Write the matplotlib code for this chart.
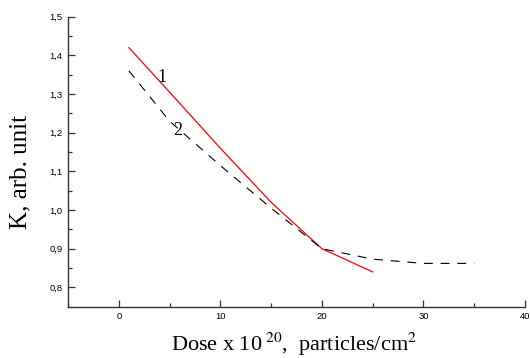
import matplotlib.pyplot as plt
from matplotlib.ticker import MultipleLocator, FuncFormatter

# curve 1 (red, solid)
dose1 = [1, 5, 10, 15, 20, 25]
k1 = [1.42, 1.305, 1.16, 1.02, 0.90, 0.84]

# curve 2 (black, dashed)
dose2 = [1, 5, 10, 15, 20, 25, 30, 35]
k2 = [1.36, 1.23, 1.115, 1.005, 0.90, 0.873, 0.862, 0.862]

fig = plt.figure(figsize=(5.3, 3.58), dpi=100)
ax = fig.add_axes([68/530, 1 - 306.7/358, (525 - 68)/530, (306.7 - 16.7)/358])

ax.plot(dose1, k1, color='red', lw=0.9)
ax.plot(dose2, k2, color='black', lw=0.8, linestyle=(0, (8, 7)))

ax.text(4.3, 1.342, '1', family='Liberation Serif', fontsize=13, ha='center', va='center')
ax.text(5.8, 1.205, '2', family='Liberation Serif', fontsize=13, ha='center', va='center')

ax.set_xlim(-5, 40)
ax.set_ylim(0.75, 1.5)
ax.xaxis.set_major_locator(MultipleLocator(10))
ax.xaxis.set_minor_locator(MultipleLocator(5))
ax.yaxis.set_major_locator(MultipleLocator(0.1))
ax.yaxis.set_minor_locator(MultipleLocator(0.05))
ax.yaxis.set_major_formatter(FuncFormatter(lambda v, p: f'{v:.1f}'.replace('.', ',')))

for s in ['top', 'right']:
    ax.spines[s].set_visible(False)
for s in ['left', 'bottom']:
    ax.spines[s].set_linewidth(1.0)
    ax.spines[s].set_color('#333333')

ax.tick_params(which='both', direction='in', color='#333333')
ax.tick_params(which='major', length=5, width=0.9, labelsize=6.8, pad=4)
ax.tick_params(which='minor', length=3, width=0.9)
for lab in ax.get_xticklabels() + ax.get_yticklabels():
    lab.set_family('Liberation Sans')

fig.text(294/530, 1 - 344/358, 'Dose x 10$^{\\ 20}$,  particles/cm$^{2}$',
         family='Liberation Serif', fontsize=16, ha='center', va='center',
         math_fontfamily='stix')
fig.text(20/530, 1 - 172/358, 'K, arb. unit', family='Liberation Serif',
         fontsize=18, rotation=90, ha='center', va='center')

fig.savefig('out.png', dpi=100)
